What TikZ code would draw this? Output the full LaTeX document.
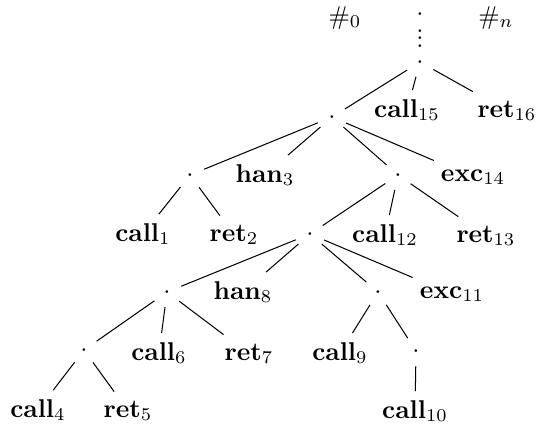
\documentclass[tikz,border=0pt]{standalone}
\begin{document}
\begin{tikzpicture}[x=0.389pt,y=-0.389pt,
  dotnode/.style={circle,inner sep=0pt,minimum size=11.5pt,text height=5pt,text depth=0pt},
  lbl/.style={inner sep=3.33pt,anchor=base},
  tedge/.style={draw,line width=0.4pt}]
\useasboundingbox (0,0) rectangle (538,431);
% header marks above the root
\node[lbl] (h0) at (345,24) {$\#_0$};
\node[lbl] (hn) at (496,24) {$\#_n$};
\node[inner sep=0pt,text height=5pt,text depth=0pt] (top) at (420,14) {$\cdot$};
\node[inner sep=0pt,anchor=base] (vd) at (420,47.4)
  {\vbox{\baselineskip=2.92pt\lineskiplimit=-100pt\hbox{.}\hbox{.}\hbox{.}}};
% inner nodes
\node[dotnode] (r) at (420,62) {$\cdot$};
\node[dotnode] (a) at (332,117) {$\cdot$};
\node[dotnode] (b) at (190,175) {$\cdot$};
\node[dotnode] (c) at (398,175) {$\cdot$};
\node[dotnode] (d) at (310,234) {$\cdot$};
\node[dotnode] (e) at (167,292) {$\cdot$};
\node[dotnode] (f) at (378,292) {$\cdot$};
\node[dotnode] (g) at (84,350) {$\cdot$};
\node[dotnode] (h) at (416,351) {$\cdot$};
% leaves
\node[lbl] (c15) at (407,117) {$\mathbf{call}_{15}$};
\node[lbl] (r16) at (507,117) {$\mathbf{ret}_{16}$};
\node[lbl] (h3) at (265,182) {$\mathbf{han}_{3}$};
\node[lbl] (x14) at (473,181) {$\mathbf{exc}_{14}$};
\node[lbl] (c1) at (143,241) {$\mathbf{call}_{1}$};
\node[lbl] (r2) at (234,241) {$\mathbf{ret}_{2}$};
\node[lbl] (c12) at (385,242) {$\mathbf{call}_{12}$};
\node[lbl] (r13) at (486,242) {$\mathbf{ret}_{13}$};
\node[lbl] (h8) at (243,299) {$\mathbf{han}_{8}$};
\node[lbl] (x11) at (452,298) {$\mathbf{exc}_{11}$};
\node[lbl] (c6) at (159,360) {$\mathbf{call}_{6}$};
\node[lbl] (r7) at (249,360) {$\mathbf{ret}_{7}$};
\node[lbl] (c9) at (340,360) {$\mathbf{call}_{9}$};
\node[lbl] (c4) at (38,417) {$\mathbf{call}_{4}$};
\node[lbl] (r5) at (128,417) {$\mathbf{ret}_{5}$};
\node[lbl] (c10) at (415,418) {$\mathbf{call}_{10}$};
% edges
\path[tedge] (r) -- (a) (r) -- (c15) (r) -- (r16);
\path[tedge] (a) -- (b) (a) -- (h3) (a) -- (c) (a) -- (x14);
\path[tedge] (b) -- (c1) (b) -- (r2);
\path[tedge] (c) -- (d) (c) -- (c12) (c) -- (r13);
\path[tedge] (d) -- (e) (d) -- (h8) (d) -- (f) (d) -- (x11);
\path[tedge] (e) -- (g) (e) -- (c6) (e) -- (r7);
\path[tedge] (f) -- (c9) (f) -- (h);
\path[tedge] (g) -- (c4) (g) -- (r5);
\path[tedge] (h) -- (c10);
\end{tikzpicture}
\end{document}
